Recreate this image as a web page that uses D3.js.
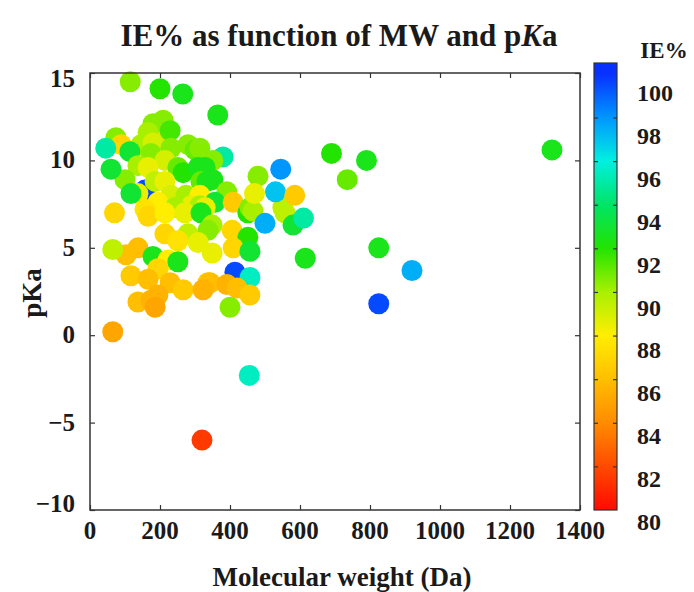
<!DOCTYPE html>
<html>
<head>
<meta charset="utf-8">
<script src="https://cdn.jsdelivr.net/npm/d3@7"></script>
<style>
  body { margin: 0; background: #fff; }
  text { font-family: "Liberation Serif", "Times New Roman", serif; font-weight: bold; fill: #1a1a1a; }
</style>
</head>
<body>
<svg id="chart" width="694" height="592"></svg>
<script>
// molecular weight (Da), pKa and IE% of each compound, drawn in this order
var mwData = [157, 214, 180, 209, 229, 166, 74, 89, 146, 180, 114, 174, 231, 280, 300, 314, 214, 137, 166, 251,
  266, 309, 331, 380, 351, 329, 351, 317, 334, 100, 137, 117, 186, 214, 231, 274, 314, 391, 194, 289,
  243, 157, 314, 357, 409, 329, 451, 457, 466, 551, 557, 166, 214, 271, 317, 349, 337, 406, 214, 280,
  251, 309, 451, 409, 349, 457, 103, 137, 180, 223, 251, 194, 117, 166, 229, 266, 137, 174, 194, 186,
  337, 414, 457, 343, 391, 420, 457, 323, 400,
  115, 200, 265, 365, 45, 60, 70, 65, 65, 690, 790, 735, 1320, 545, 530, 585, 480, 470, 580, 610,
  500, 615, 825, 920, 825, 455, 320];
var pkaData = [8.3, 11.6, 12.1, 12.3, 11.7, 11.6, 11.3, 10.9, 10.9, 11.0, 10.5, 10.4, 10.7, 10.9, 10.6, 10.7, 10.0, 9.7, 9.6, 9.6,
  9.3, 9.6, 9.3, 10.2, 10.0, 9.6, 8.9, 8.8, 8.8, 8.9, 8.1, 8.1, 8.8, 8.8, 8.0, 8.0, 8.0, 8.2, 7.6, 7.4,
  7.3, 7.2, 7.4, 7.6, 7.6, 7.3, 7.0, 7.3, 7.1, 7.3, 7.0, 6.8, 7.0, 7.0, 7.0, 6.3, 6.0, 6.0, 5.8, 5.8,
  5.4, 5.3, 5.6, 5.0, 4.7, 4.8, 4.6, 5.0, 4.5, 4.3, 4.2, 3.8, 3.4, 3.2, 3.0, 2.6, 1.9, 2.0, 2.3, 1.6,
  3.0, 3.6, 3.3, 3.0, 2.9, 2.7, 2.3, 2.6, 1.6,
  14.5, 14.1, 13.8, 12.6, 10.7, 9.5, 7.0, 4.9, 0.2, 10.4, 10.0, 8.9, 10.6, 9.5, 8.2, 8.0, 9.1, 8.1, 6.3, 6.7,
  6.4, 4.4, 5.0, 3.7, 1.8, -2.3, -6.0];
var ieData = [99.5, 87, 90.5, 90.5, 91.5, 90, 90.5, 87, 90, 89, 93, 90.5, 90.5, 90.5, 91, 90.5, 89, 90, 88.5, 91,
  92, 92.5, 93, 95, 90.5, 92.5, 92.5, 91, 92.5, 90.5, 88.5, 93, 89.5, 88.5, 89, 90, 88, 90.5, 88, 88.5,
  90, 87.5, 90, 93, 86.5, 88.5, 92, 90.5, 90, 89.5, 89.5, 87, 88, 88.5, 92.5, 90, 90.5, 87, 87, 89.5,
  87.5, 88.5, 92, 87, 88.5, 93, 86, 86, 92.5, 88, 92.5, 87, 86.5, 86, 86, 86.5, 86, 85.5, 85.5, 85,
  86.5, 99.5, 95.5, 86, 85.5, 86, 86.5, 85.5, 90.5,
  90.5, 92, 92.5, 92.5, 95, 93, 87, 89.5, 85, 92, 92.5, 91, 92.5, 98, 97, 86.5, 90.5, 88.5, 93, 95,
  97.5, 92.5, 92.5, 97.5, 99.5, 95.5, 81.5];

var xTicks = [0, 200, 400, 600, 800, 1000, 1200, 1400];
var yTicks = [-10, -5, 0, 5, 10, 15];
var ieTicks = [80, 82, 84, 86, 88, 90, 92, 94, 96, 98, 100];
var ieColors = ['#ff0a00', '#ff4a00', '#ff8c00', '#ffbe00', '#ffee00', '#a8f000', '#22e400', '#00e466', '#00f0e0', '#0096ff', '#0830ff'];

var svg = d3.select('#chart');
var plotLeft = 90, plotRight = 580, plotTop = 73, plotBottom = 510;

var x = d3.scaleLinear().domain([0, 1400]).range([plotLeft, plotRight]);
var y = d3.scaleLinear().domain([-10, 15]).range([plotBottom, plotTop]);
var color = d3.scaleLinear().domain(ieTicks).range(ieColors).clamp(true);

// dots first, frame on top
svg.append('g')
  .selectAll('circle')
  .data(mwData)
  .enter().append('circle')
  .attr('cx', (d) => x(d))
  .attr('cy', (d, i) => y(pkaData[i]))
  .attr('r', 10.5)
  .attr('fill', (d, i) => color(ieData[i]));

svg.append('rect')
  .attr('x', plotLeft).attr('y', plotTop)
  .attr('width', plotRight - plotLeft).attr('height', plotBottom - plotTop)
  .attr('fill', 'none').attr('stroke', '#333').attr('stroke-width', 1.5);

// inward ticks on all sides
var tickLen = 5;
svg.append('g').call(d3.axisTop(x).tickValues(xTicks).tickSize(tickLen).tickFormat(''))
  .attr('transform', 'translate(0,' + plotBottom + ')');
svg.append('g').call(d3.axisBottom(x).tickValues(xTicks).tickSize(tickLen).tickFormat(''))
  .attr('transform', 'translate(0,' + plotTop + ')');
svg.append('g').call(d3.axisRight(y).tickValues(yTicks).tickSize(tickLen).tickFormat(''))
  .attr('transform', 'translate(' + plotLeft + ',0)');
svg.append('g').call(d3.axisLeft(y).tickValues(yTicks).tickSize(tickLen).tickFormat(''))
  .attr('transform', 'translate(' + plotRight + ',0)');
svg.selectAll('.domain').remove();
svg.selectAll('.tick line').attr('stroke', '#333').attr('stroke-width', 1.2);

// tick labels
svg.append('g').selectAll('text').data(xTicks).enter().append('text')
  .attr('x', (d) => x(d)).attr('y', 539)
  .attr('text-anchor', 'middle')
  .style('font-size', '25px')
  .text((d) => d);

svg.append('g').selectAll('text').data(yTicks).enter().append('text')
  .attr('x', 75)
  .attr('y', (d) => y(d) + 8 + (d === 15 ? 6 : 0) - (d === -10 ? 6 : 0))
  .attr('text-anchor', 'end')
  .style('font-size', '25px')
  .text((d) => String(d).replace('-', '\u2212'));

// titles
var title = svg.append('text')
  .attr('x', 339).attr('y', 46)
  .attr('text-anchor', 'middle')
  .style('font-size', '31px');
title.append('tspan').text('IE% as function of MW and p');
title.append('tspan').style('font-style', 'italic').text('K');
title.append('tspan').text('a');

svg.append('text')
  .attr('x', 342).attr('y', 586)
  .attr('text-anchor', 'middle')
  .style('font-size', '27px')
  .text('Molecular weight (Da)');

svg.append('text')
  .attr('transform', 'translate(41,' + 293 + ') rotate(-90)')
  .attr('text-anchor', 'middle')
  .style('font-size', '27px')
  .text('pKa');

// colour bar
var cbX = 594, cbW = 23, cbTop = 63;
var cy = d3.scaleLinear().domain([80, 100.5]).range([plotBottom, cbTop]);
var labelY = d3.scaleLinear().domain([80, 100]).range([522, 93]);
var defs = svg.append('defs');
var grad = defs.append('linearGradient')
  .attr('id', 'ieGrad')
  .attr('x1', 0).attr('y1', 1).attr('x2', 0).attr('y2', 0);
grad.selectAll('stop').data(ieTicks).enter().append('stop')
  .attr('offset', (d) => (d - 80) / 20.5)
  .attr('stop-color', (d) => color(d));

svg.append('rect')
  .attr('x', cbX).attr('y', cbTop)
  .attr('width', cbW).attr('height', plotBottom - cbTop)
  .attr('fill', 'url(#ieGrad)')
  .attr('stroke', '#333').attr('stroke-width', 1.2);

var inner = ieTicks.slice(1, -1);
svg.append('g').call(d3.axisRight(cy).tickValues(inner).tickSize(4).tickFormat(''))
  .attr('transform', 'translate(' + cbX + ',0)');
svg.append('g').call(d3.axisLeft(cy).tickValues(inner).tickSize(4).tickFormat(''))
  .attr('transform', 'translate(' + (cbX + cbW) + ',0)');
svg.selectAll('.domain').remove();
svg.selectAll('.tick line').attr('stroke', '#333').attr('stroke-width', 1.2);

svg.append('g').selectAll('text').data(ieTicks).enter().append('text')
  .attr('x', 637)
  .attr('y', (d) => labelY(d) + 8)
  .style('font-size', '24px')
  .text((d) => d);

svg.append('text')
  .attr('x', 664).attr('y', 58)
  .attr('text-anchor', 'middle')
  .style('font-size', '23px')
  .text('IE%');
</script>
</body>
</html>
